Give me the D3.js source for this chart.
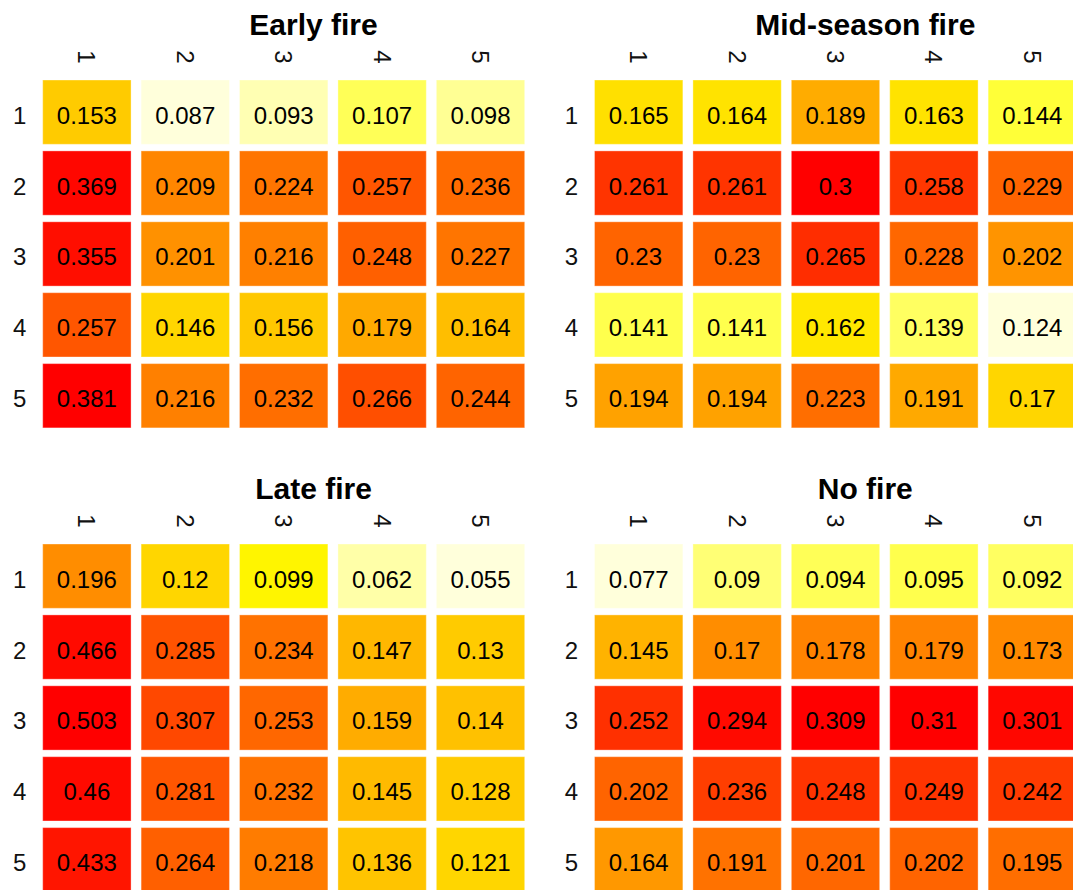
<!DOCTYPE html>
<html>
<head>
<meta charset="utf-8">
<style>
  body { margin: 0; background: #fff; }
  svg { display: block; }
  text { font-family: "Liberation Sans", Arial, sans-serif; }
</style>
</head>
<body>
<svg width="1073" height="890"></svg>
<script src="https://d3js.org/d3.v7.min.js"></script>
<script>

//START: data
const rowLabels = ["1", "2", "3", "4", "5"];
const colLabels = ["1", "2", "3", "4", "5"];
const titles = ["Early fire", "Mid-season fire", "Late fire", "No fire"];

const earlyFire = [
  [0.153, 0.087, 0.093, 0.107, 0.098],
  [0.369, 0.209, 0.224, 0.257, 0.236],
  [0.355, 0.201, 0.216, 0.248, 0.227],
  [0.257, 0.146, 0.156, 0.179, 0.164],
  [0.381, 0.216, 0.232, 0.266, 0.244]
];
const midSeasonFire = [
  [0.165, 0.164, 0.189, 0.163, 0.144],
  [0.261, 0.261, 0.3, 0.258, 0.229],
  [0.23, 0.23, 0.265, 0.228, 0.202],
  [0.141, 0.141, 0.162, 0.139, 0.124],
  [0.194, 0.194, 0.223, 0.191, 0.17]
];
const lateFire = [
  [0.196, 0.12, 0.099, 0.062, 0.055],
  [0.466, 0.285, 0.234, 0.147, 0.13],
  [0.503, 0.307, 0.253, 0.159, 0.14],
  [0.46, 0.281, 0.232, 0.145, 0.128],
  [0.433, 0.264, 0.218, 0.136, 0.121]
];
const noFire = [
  [0.077, 0.09, 0.094, 0.095, 0.092],
  [0.145, 0.17, 0.178, 0.179, 0.173],
  [0.252, 0.294, 0.309, 0.31, 0.301],
  [0.202, 0.236, 0.248, 0.249, 0.242],
  [0.164, 0.191, 0.201, 0.202, 0.195]
];
//END: data


const svg = d3.select("svg"),
    width = +svg.attr("width"),
    height = +svg.attr("height");

// R style heat.colors(n), reversed so low = pale, high = red
function heatColors(n) {
  var j = Math.floor(n / 4), i = n - j, out = [];
  for (var k = 0; k < i; k++) {
    var h = i > 1 ? k / (i - 1) : 0; // 0..1 of the red->yellow hue span
    out.push(d3.rgb(255, Math.round(h * 255), 0).formatHex());
  }
  for (var k = 0; k < j; k++) {
    var s = j > 1 ? (1 - 1 / (2 * j)) - k * ((1 - 1 / j) / (j - 1)) : 0.5;
    out.push(d3.rgb(255, 255, Math.round((1 - s) * 255)).formatHex());
  }
  return out;
}
const palette = heatColors(100).reverse();

// panel placement: [data, left of first cell, top of first cell]
var panels = [
  {title: titles[0], values: earlyFire, x0: 42.7, y0: 80},
  {title: titles[1], values: midSeasonFire, x0: 594.5, y0: 80},
  {title: titles[2], values: lateFire, x0: 42.7, y0: 544},
  {title: titles[3], values: noFire, x0: 594.5, y0: 544}
];

var step = 98, gapX = 10, rowStep = 70.9, gapY = 6.6;

panels.forEach(function(p) {
  var g = svg.append("g");

  var x = d3.scaleBand()
      .domain(colLabels)
      .range([p.x0, p.x0 + step * 5 - gapX + 2])
      .paddingInner(gapX / step);
  var y = d3.scaleBand()
      .domain(rowLabels)
      .range([p.y0, p.y0 + rowStep * 5 - gapY])
      .paddingInner(gapY / rowStep);

  var flat = [];
  p.values.forEach(function(row, r) {
    row.forEach(function(v, c) {
      flat.push({row: rowLabels[r], col: colLabels[c], value: v});
    });
  });

  // colour position is taken on a log scale of the panel's own range
  var pos = d3.scaleLog().domain(d3.extent(flat, function(d) { return d.value; })).range([0.03, 1]);
  var color = d3.scaleQuantize().domain([0, 1]).range(palette);

  g.selectAll("rect")
    .data(flat)
    .enter()
    .append("rect")
    .attr("x", function(d) { return x(d.col); })
    .attr("y", function(d) { return y(d.row); })
    .attr("width", x.bandwidth())
    .attr("height", y.bandwidth())
    .attr("fill", function(d) { return color(Math.min(0.9999, pos(d.value))); })
    .attr("stroke", "#fff")
    .attr("stroke-opacity", 0.35)
    .attr("stroke-width", 1);

  g.selectAll(".val")
    .data(flat)
    .enter()
    .append("text")
    .attr("class", "val")
    .attr("x", function(d) { return x(d.col) + x.bandwidth() / 2; })
    .attr("y", function(d) { return y(d.row) + y.bandwidth() / 2 + 3; })
    .attr("text-anchor", "middle")
    .attr("dominant-baseline", "central")
    .style("font-size", "24px")
    .attr("fill", "#000")
    .text(function(d) { return String(d.value); });

  // row labels on the left
  g.selectAll(".rlab")
    .data(rowLabels)
    .enter()
    .append("text")
    .attr("class", "rlab")
    .attr("x", p.x0 - 23)
    .attr("y", function(d) { return y(d) + y.bandwidth() / 2 + 3; })
    .attr("text-anchor", "middle")
    .attr("dominant-baseline", "central")
    .style("font-size", "24px")
    .attr("fill", "#111")
    .text(function(d) { return d; });

  // column labels above, turned on their side
  g.selectAll(".clab")
    .data(colLabels)
    .enter()
    .append("text")
    .attr("class", "clab")
    .attr("transform", function(d) {
      return "translate(" + (x(d) + x.bandwidth() / 2) + "," + (p.y0 - 23) + ") rotate(90)";
    })
    .attr("text-anchor", "middle")
    .attr("dominant-baseline", "central")
    .style("font-size", "24px")
    .attr("fill", "#111")
    .text(function(d) { return d; });

  g.append("text")
    .attr("x", p.x0 + 270.8)
    .attr("y", p.y0 - 45)
    .attr("text-anchor", "middle")
    .style("font-size", "30px")
    .style("font-weight", "bold")
    .text(p.title);
});

</script>
</body>
</html>
